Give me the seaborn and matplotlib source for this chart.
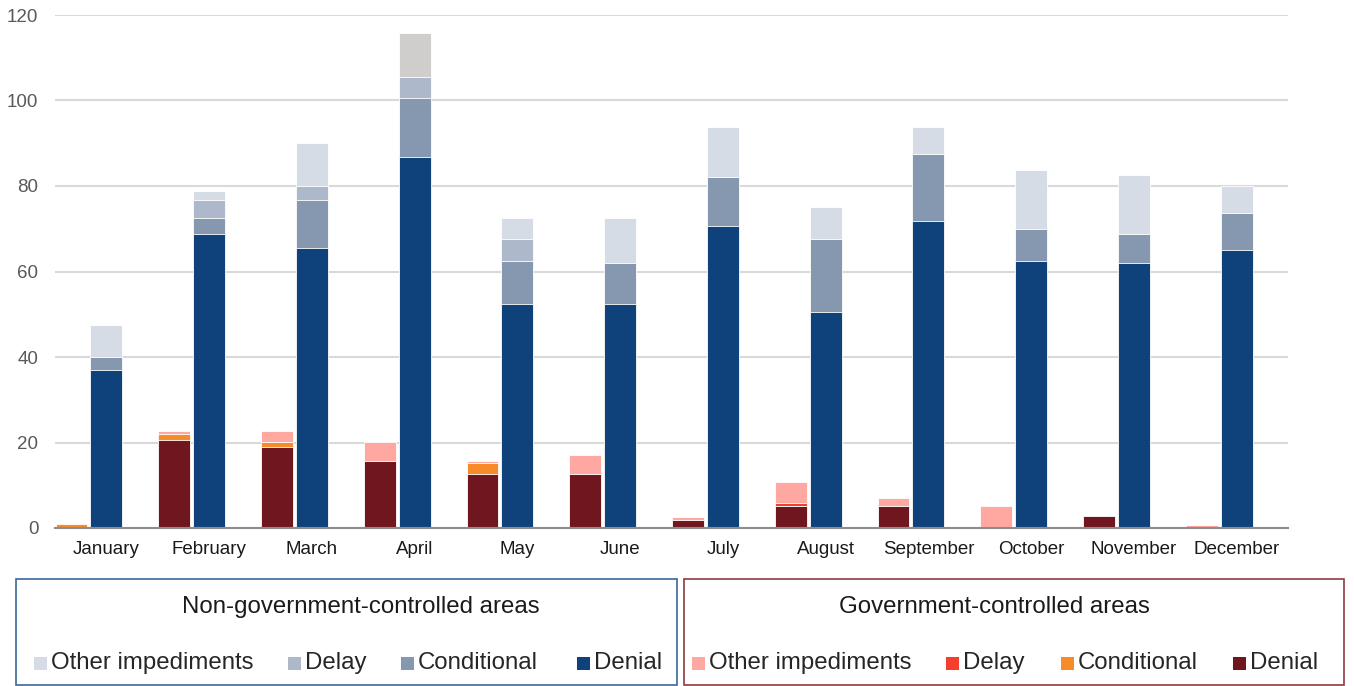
import matplotlib
matplotlib.use("Agg")
import matplotlib.pyplot as plt
from matplotlib.patches import Rectangle
import numpy as np
import pandas as pd
import seaborn as sns

# ---------------- data ----------------
months = ["January", "February", "March", "April", "May", "June",
          "July", "August", "September", "October", "November", "December"]

# Non-government-controlled areas
ngca_denial      = [37.0, 68.8, 65.6, 86.8, 52.5, 52.5, 70.6, 50.6, 71.8, 62.4, 61.9, 65.0]
ngca_conditional = [3.0, 3.7, 11.1, 13.8, 10.0, 9.4, 11.4, 16.9, 15.7, 7.6, 6.9, 8.7]
ngca_delay       = [0.0, 4.3, 3.4, 5.0, 5.0, 0.0, 0.0, 0.0, 0.0, 0.0, 0.0, 0.0]
ngca_other       = [7.6, 2.0, 10.0, 10.2, 5.0, 10.6, 11.8, 7.6, 6.3, 13.7, 13.7, 6.4]

# Government-controlled areas
gca_denial      = [0.0, 20.7, 18.9, 15.7, 12.65, 12.65, 1.96, 5.1, 5.1, 0.0, 2.7, 0.0]
gca_conditional = [0.9, 1.3, 1.3, 0.0, 2.45, 0.0, 0.0, 0.0, 0.0, 0.0, 0.0, 0.0]
gca_delay       = [0.0, 0.0, 0.0, 0.0, 0.0, 0.0, 0.0, 0.8, 0.0, 0.0, 0.0, 0.0]
gca_other       = [0.0, 0.7, 2.4, 4.4, 0.6, 4.45, 0.7, 4.8, 1.95, 5.1, 0.0, 0.8]

yticks = [0, 20, 40, 60, 80, 100, 120]
legend_labels = ["Other impediments", "Delay", "Conditional", "Denial"]

# ---------------- style ----------------
ngca_colors = {"Denial": "#0f427b", "Conditional": "#8598b0",
               "Delay": "#adb9ca", "Other impediments": "#d6dce5"}
gca_colors = {"Denial": "#70161e", "Conditional": "#f78b29",
              "Delay": "#f43f2f", "Other impediments": "#ffa7a1"}
ngca_other_special = {3: "#d0cdcd"}  # April top segment shown in grey

sns.set_theme(style="white")
plt.rcParams["font.family"] = ["Liberation Sans", "DejaVu Sans"]

fig = plt.figure(figsize=(13.54, 6.86), dpi=100)
W, H = 1354, 686
ax = fig.add_axes([55 / W, 1 - 528 / H, (1288 - 55) / W, (528 - 15) / H])

x = np.arange(len(months))
bw = 0.31
gca_pos = x - 0.34
ngca_pos = x


def stacked(pos, layers, colors, special_top=None):
    # layers listed bottom->top; draw cumulative totals from top down (overlay)
    cum = np.cumsum(np.array([l[1] for l in layers]), axis=0)
    for k in range(len(layers) - 1, -1, -1):
        name = layers[k][0]
        base = colors[name]
        pal = [base] * len(months)
        if special_top and k == len(layers) - 1:
            for idx, c in special_top.items():
                pal[idx] = c
        df = pd.DataFrame({"pos": pos, "val": cum[k], "m": months})
        sns.barplot(data=df, x="pos", y="val", hue="m", palette=pal,
                    native_scale=True, width=bw, dodge=False, legend=False,
                    edgecolor="white", linewidth=0.6, ax=ax, saturation=1)


stacked(gca_pos, [("Denial", gca_denial), ("Conditional", gca_conditional),
                  ("Delay", gca_delay), ("Other impediments", gca_other)], gca_colors)
stacked(ngca_pos, [("Denial", ngca_denial), ("Conditional", ngca_conditional),
                   ("Delay", ngca_delay), ("Other impediments", ngca_other)], ngca_colors,
        special_top=ngca_other_special)

ax.set_xlim(-0.5, len(months) - 0.5)
ax.set_ylim(0, 120)
ax.set_yticks(yticks)
ax.set_yticklabels([str(v) for v in yticks], color="#595959", fontsize=13.5)
ax.set_xticks(x)
ax.set_xticklabels(months, color="#1a1a1a", fontsize=13.5)
ax.tick_params(axis="y", length=0, pad=12)
ax.tick_params(axis="x", length=0, pad=9)
ax.set_xlabel("")
ax.set_ylabel("")
ax.yaxis.grid(True, color="#d9d9d9", linewidth=1.5)
ax.set_axisbelow(True)
for s in ["top", "right", "left"]:
    ax.spines[s].set_visible(False)
ax.spines["bottom"].set_color("#8c8c8c")
ax.spines["bottom"].set_linewidth(1.5)

# ---------------- legends ----------------
def fx(px):
    return px / W


def fy(py):
    return 1 - py / H


def legend_box(x0, x1, edge, title, title_cx, colors, item_x):
    fig.patches.append(Rectangle((fx(x0), fy(685)), fx(x1) - fx(x0), fy(579) - fy(685),
                                 transform=fig.transFigure, facecolor="white",
                                 edgecolor=edge, linewidth=1.2, zorder=0))
    fig.text(fx(title_cx), fy(607), title, ha="center", va="center",
             fontsize=17.3, color="#1a1a1a")
    for lab, sx in zip(legend_labels, item_x):
        fig.patches.append(Rectangle((fx(sx), fy(670)), fx(13), 13 / H,
                                     transform=fig.transFigure,
                                     facecolor=colors[lab], edgecolor="none"))
        fig.text(fx(sx + 17), fy(663), lab, ha="left", va="center",
                 fontsize=17.3, color="#262626")


legend_box(16, 677, "#3a689e", "Non-government-controlled areas", 361,
           ngca_colors, [34, 288, 401, 577])
legend_box(684, 1344, "#8e3b40", "Government-controlled areas", 994,
           gca_colors, [692, 946, 1061, 1233])

fig.savefig("out.png", dpi=100)
